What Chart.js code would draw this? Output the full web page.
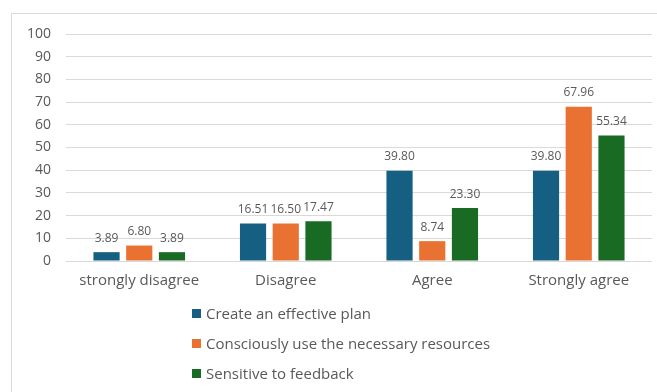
<!DOCTYPE html>
<html>
<head>
<meta charset="utf-8">
<script src="https://cdn.jsdelivr.net/npm/chart.js@4/dist/chart.umd.min.js"></script>
<style>
  html, body { margin: 0; padding: 0; background: #fff; }
  body { width: 657px; height: 392px; position: relative; overflow: hidden; font-family: 'Open Sans', sans-serif; }
  #frame { position: absolute; left: 11px; top: 13px; width: 700px; height: 420px; border: 1px solid #d9d9d9; box-sizing: border-box; }
  #wrap { position: absolute; left: 0; top: 0; width: 657px; height: 300px; }
  #legend { position: absolute; left: 192px; top: 298px; color: #595959; font-size: 15px; }
  #legend .row { height: 30px; display: flex; align-items: center; }
  #legend .box { width: 9px; height: 9px; margin-right: 5px; }
</style>
</head>
<body>
<div id="frame"></div>
<div id="wrap"><canvas id="chart"></canvas></div>
<div id="legend"></div>
<script>
const categories = ['strongly disagree', 'Disagree', 'Agree', 'Strongly agree'];
const seriesNames = ['Create an effective plan', 'Consciously use the necessary resources', 'Sensitive to feedback'];
const planValues = [3.89, 16.51, 39.80, 39.80];
const resourceValues = [6.80, 16.50, 8.74, 67.96];
const feedbackValues = [3.89, 17.47, 23.30, 55.34];
const seriesColors = ['#156082', '#e97132', '#196b24'];

const textColor = '#595959';

// value labels above each bar
const barValues = {
  id: 'barValues',
  afterDatasetsDraw(chart) {
    const ctx = chart.ctx;
    ctx.save();
    ctx.font = '12px "Open Sans"';
    ctx.fillStyle = textColor;
    ctx.textAlign = 'center';
    ctx.textBaseline = 'bottom';
    chart.data.datasets.forEach((ds, i) => {
      chart.getDatasetMeta(i).data.forEach((bar, j) => {
        ctx.fillText(ds.data[j].toFixed(2), bar.x, bar.y - 8);
      });
    });
    ctx.restore();
  }
};

const chart = new Chart(document.getElementById('chart'), {
  type: 'bar',
  data: {
    labels: categories,
    datasets: [planValues, resourceValues, feedbackValues].map((vals, i) => ({
      label: seriesNames[i],
      data: vals,
      backgroundColor: seriesColors[i],
      barPercentage: 0.8,
      categoryPercentage: 0.67,
    })),
  },
  options: {
    responsive: true,
    maintainAspectRatio: false,
    animation: false,
    layout: { padding: { top: 34, right: 5, left: 0, bottom: 0 } },
    plugins: {
      legend: { display: false },
      tooltip: { enabled: false },
    },
    scales: {
      x: {
        grid: { display: false, drawTicks: false },
        border: { display: false },
        ticks: { color: textColor, font: { family: 'Open Sans', size: 15 }, padding: 11 },
        afterFit(scale) { scale.height = 39; },
      },
      y: {
        min: 0,
        max: 100,
        grid: { color: '#d9d9d9', lineWidth: 1, drawTicks: false },
        border: { display: false },
        ticks: { stepSize: 10, color: textColor, font: { family: 'Open Sans', size: 14 }, padding: 15 },
        afterFit(scale) { scale.width = 66; },
      },
    },
  },
  plugins: [barValues],
});

const legend = document.getElementById('legend');
chart.data.datasets.forEach((ds) => {
  const row = document.createElement('div');
  row.className = 'row';
  const box = document.createElement('span');
  box.className = 'box';
  box.style.background = ds.backgroundColor;
  const label = document.createElement('span');
  label.textContent = ds.label;
  row.appendChild(box);
  row.appendChild(label);
  legend.appendChild(row);
});
</script>
</body>
</html>
